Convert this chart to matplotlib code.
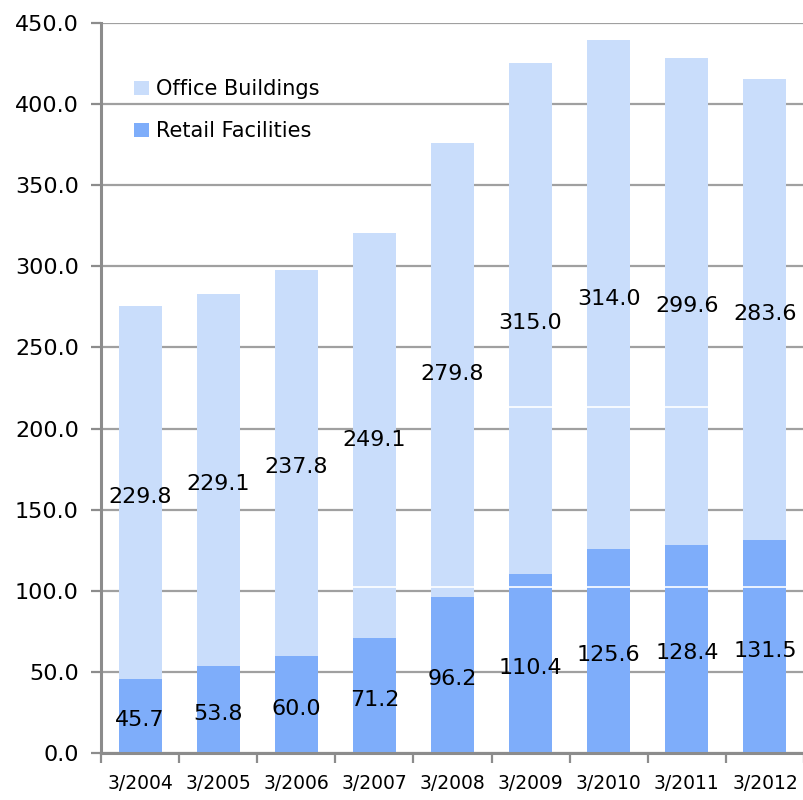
import numpy as np
from matplotlib import pyplot as plt

years = ["3/2004", "3/2005", "3/2006", "3/2007", "3/2008",
         "3/2009", "3/2010", "3/2011", "3/2012"]
retail = [45.7, 53.8, 60.0, 71.2, 96.2, 110.4, 125.6, 128.4, 131.5]
office = [229.8, 229.1, 237.8, 249.1, 279.8, 315.0, 314.0, 299.6, 283.6]

# faint white seams that show across some of the bars in the source image
seam_levels = [102.2, 213.1]
seam_bars = [[3, 4, 5, 6, 7, 8], [5, 6, 7]]

OFFICE_COLOR = "#C9DDFB"
RETAIL_COLOR = "#7EADFA"
AXIS_GRAY = "#8C8C8C"

plt.rcParams["font.family"] = ["DejaVu Sans"]

fig = plt.figure(figsize=(8.04, 8.0), dpi=100)
ax = fig.add_axes([0.1256, 0.0584, 0.8744, 0.9132])

x = np.arange(len(years))
width = 0.55

ax.set_axisbelow(True)
ax.yaxis.grid(True, color="#A0A0A0", linewidth=1.6)

b_retail = ax.bar(x, retail, width, color=RETAIL_COLOR, label="Retail Facilities")
b_office = ax.bar(x, office, width, bottom=retail, color=OFFICE_COLOR,
                  label="Office Buildings")

for level, idx in zip(seam_levels, seam_bars):
    for i in idx:
        ax.hlines(level, x[i] - width / 2, x[i] + width / 2,
                  color="white", linewidth=1.2, zorder=3)

ax.bar_label(b_retail, fmt="%.1f", label_type="center", fontsize=16,
             padding=-3)
ax.bar_label(b_office, fmt="%.1f", label_type="center", fontsize=16,
             padding=-3)

ax.set_xlim(-0.5, len(years) - 0.5)
ax.set_ylim(0, 450)
ax.set_yticks(np.arange(0, 451, 50))
ax.set_yticklabels([f"{v:.1f}" for v in np.arange(0, 451, 50)], fontsize=16)

ax.set_xticks(x)
ax.set_xticklabels(years, fontsize=13.5)
ax.set_xticks(np.arange(-0.5, len(years)), minor=True)
ax.tick_params(axis="x", which="major", length=0, pad=15)
ax.tick_params(axis="x", which="minor", length=7, width=1.6, color=AXIS_GRAY,
               direction="out")
ax.tick_params(axis="y", length=7, width=1.6, color=AXIS_GRAY, pad=9)

for side in ("top", "right"):
    ax.spines[side].set_visible(False)
for side in ("left", "bottom"):
    ax.spines[side].set_color(AXIS_GRAY)
    ax.spines[side].set_linewidth(2.2)

handles = [b_office, b_retail]
ax.legend(handles, [h.get_label() for h in handles], loc="upper left",
          bbox_to_anchor=(0.035, 0.934), frameon=False, fontsize=15,
          handlelength=0.7, handleheight=0.7, handletextpad=0.35,
          labelspacing=1.05, borderaxespad=0)

fig.savefig("out.png", dpi=100)
